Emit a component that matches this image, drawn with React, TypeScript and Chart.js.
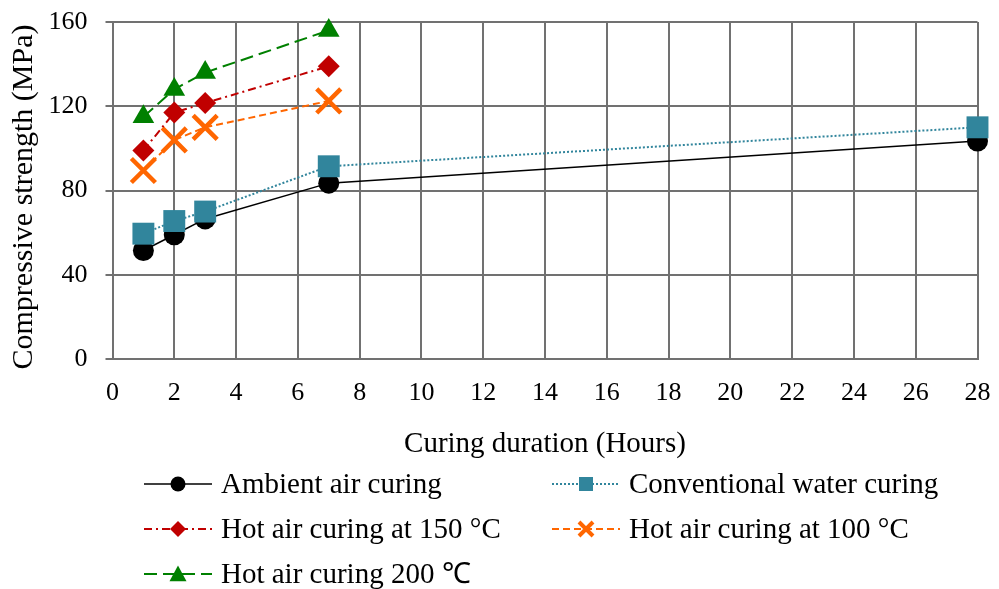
import React, { useEffect, useRef } from 'react';
import { Chart, registerables } from 'chart.js';
Chart.register(...registerables);

const hoursAll = [1, 2, 3, 7, 28];
const hoursHot = [1, 2, 3, 7];
const ambientAir = [51.5, 59, 66.5, 83.5, 103.5];
const conventionalWater = [59.5, 65.5, 70, 91.5, 110];
const hotAir150 = [99, 117, 121.5, 139];
const hotAir100 = [89.5, 104, 110, 122.5];
const hotAir200 = [115, 128, 136, 156];

const seriesLabels = [
  'Ambient air curing',
  'Conventional water curing',
  'Hot air curing at 150 °C',
  'Hot air curing at 100 °C',
  'Hot air curing 200 \u2103',
];
const xTitle = 'Curing duration (Hours)';
const yTitle = 'Compressive strength (MPa)';

const FONT = '"Liberation Serif", "Times New Roman", serif';
const GRID = '#717171';

const toPts = (xs: number[], ys: number[]) => xs.map((x, i) => ({ x, y: ys[i] }));

type Style = { color: string; dash: number[]; point: string; radius: number; bw: number };
const styles: Style[] = [
  { color: '#000000', dash: [], point: 'circle', radius: 10.5, bw: 0 },
  { color: '#31859C', dash: [2, 2], point: 'rect', radius: 15.5, bw: 0 },
  { color: '#C00000', dash: [8, 4, 2, 4], point: 'rectRot', radius: 11, bw: 0 },
  { color: '#FF6600', dash: [7, 4], point: 'crossRot', radius: 17, bw: 4.5 },
  { color: '#008000', dash: [13, 6], point: 'triangle', radius: 12.5, bw: 0 },
];

function drawMarker(ctx: CanvasRenderingContext2D, kind: string, x: number, y: number, s: number, color: string) {
  ctx.save();
  ctx.setLineDash([]);
  ctx.fillStyle = color;
  ctx.strokeStyle = color;
  ctx.beginPath();
  if (kind === 'circle') {
    ctx.arc(x, y, s, 0, Math.PI * 2);
    ctx.fill();
  } else if (kind === 'rect') {
    ctx.rect(x - s, y - s, 2 * s, 2 * s);
    ctx.fill();
  } else if (kind === 'rectRot') {
    ctx.moveTo(x - s, y);
    ctx.lineTo(x, y - s);
    ctx.lineTo(x + s, y);
    ctx.lineTo(x, y + s);
    ctx.closePath();
    ctx.fill();
  } else if (kind === 'triangle') {
    ctx.moveTo(x, y - s);
    ctx.lineTo(x + s, y + s * 0.85);
    ctx.lineTo(x - s, y + s * 0.85);
    ctx.closePath();
    ctx.fill();
  } else if (kind === 'crossRot') {
    ctx.lineWidth = 4;
    ctx.moveTo(x - s, y - s);
    ctx.lineTo(x + s, y + s);
    ctx.moveTo(x + s, y - s);
    ctx.lineTo(x - s, y + s);
    ctx.stroke();
  }
  ctx.restore();
}

const legendPlugin = {
  id: 'customLegend',
  afterDraw(chart: any) {
    const ctx: CanvasRenderingContext2D = chart.ctx;
    // y-axis title
    ctx.save();
    ctx.translate(24.5, 197);
    ctx.rotate(-Math.PI / 2);
    ctx.fillStyle = '#000';
    ctx.font = `30px ${FONT}`;
    ctx.textAlign = 'center';
    ctx.textBaseline = 'middle';
    ctx.fillText(yTitle, 0, 0);
    ctx.restore();

    const colX = [144, 552];
    const rowY = [484, 529, 574];
    const markerSize = [7.5, 7, 8, 7, 8.5];
    seriesLabels.forEach((label, i) => {
      const st = styles[i];
      const x0 = colX[i % 2];
      const y = rowY[Math.floor(i / 2)];
      ctx.save();
      ctx.strokeStyle = st.color;
      ctx.lineWidth = i === 0 ? 1.5 : 2;
      ctx.setLineDash(st.dash);
      ctx.beginPath();
      ctx.moveTo(x0, y);
      ctx.lineTo(x0 + 68, y);
      ctx.stroke();
      ctx.restore();
      drawMarker(ctx, st.point, x0 + 34, y, markerSize[i], st.color);
      ctx.save();
      ctx.fillStyle = '#000';
      ctx.font = `29px ${FONT}`;
      ctx.textBaseline = 'middle';
      ctx.textAlign = 'left';
      ctx.fillText(label, x0 + 77, y + 1);
      ctx.restore();
    });
  },
};

export default function App() {
  const ref = useRef<HTMLCanvasElement>(null);
  useEffect(() => {
    if (!ref.current) return;
    const seriesData = [
      toPts(hoursAll, ambientAir),
      toPts(hoursAll, conventionalWater),
      toPts(hoursHot, hotAir150),
      toPts(hoursHot, hotAir100),
      toPts(hoursHot, hotAir200),
    ];
    const orders = [1, 0, 3, 4, 2];
    const chart = new Chart(ref.current, {
      type: 'line',
      data: {
        datasets: seriesData.map((d, i) => ({
          label: seriesLabels[i],
          data: d,
          borderColor: styles[i].color,
          backgroundColor: styles[i].color,
          borderWidth: i === 0 ? 1.5 : 2,
          borderDash: styles[i].dash,
          pointStyle: styles[i].point as any,
          pointRadius: styles[i].radius,
          pointBorderWidth: styles[i].bw,
          pointBackgroundColor: styles[i].color,
          pointBorderColor: styles[i].color,
          tension: 0,
          clip: false as any,
          order: orders[i],
        })),
      },
      options: {
        animation: false,
        responsive: false,
        maintainAspectRatio: false,
        layout: { padding: { left: 0, right: 18, top: 22, bottom: 127 } },
        plugins: { legend: { display: false }, tooltip: { enabled: false } },
        scales: {
          x: {
            type: 'linear',
            min: 0,
            max: 28,
            afterFit: (s: any) => {
              s.height = 103;
              s.paddingLeft = 0;
              s.paddingRight = 0;
            },
            ticks: { stepSize: 2, color: '#000', font: { family: FONT, size: 26 }, padding: 19, maxRotation: 0 },
            grid: { color: GRID, lineWidth: 2, drawTicks: false },
            border: { color: GRID, width: 2 },
            title: { display: true, text: xTitle, color: '#000', font: { family: FONT, size: 29 }, padding: { top: 0, bottom: 0 } },
          },
          y: {
            min: 0,
            max: 160,
            afterFit: (s: any) => {
              s.width = 112.5;
              s.paddingTop = 0;
              s.paddingBottom = 0;
            },
            ticks: { stepSize: 40, color: '#000', font: { family: FONT, size: 26 }, padding: 18 },
            grid: { color: GRID, lineWidth: 2, tickLength: 7 },
            border: { color: GRID, width: 2 },
            title: { display: false, text: yTitle },
          },
        },
      },
      plugins: [legendPlugin],
    });
    return () => chart.destroy();
  }, []);
  return (
    <div style={{ position: 'absolute', left: 0, top: 0, width: 999, height: 589, background: '#fff' }}>
      <canvas ref={ref} width={999} height={589} />
    </div>
  );
}
